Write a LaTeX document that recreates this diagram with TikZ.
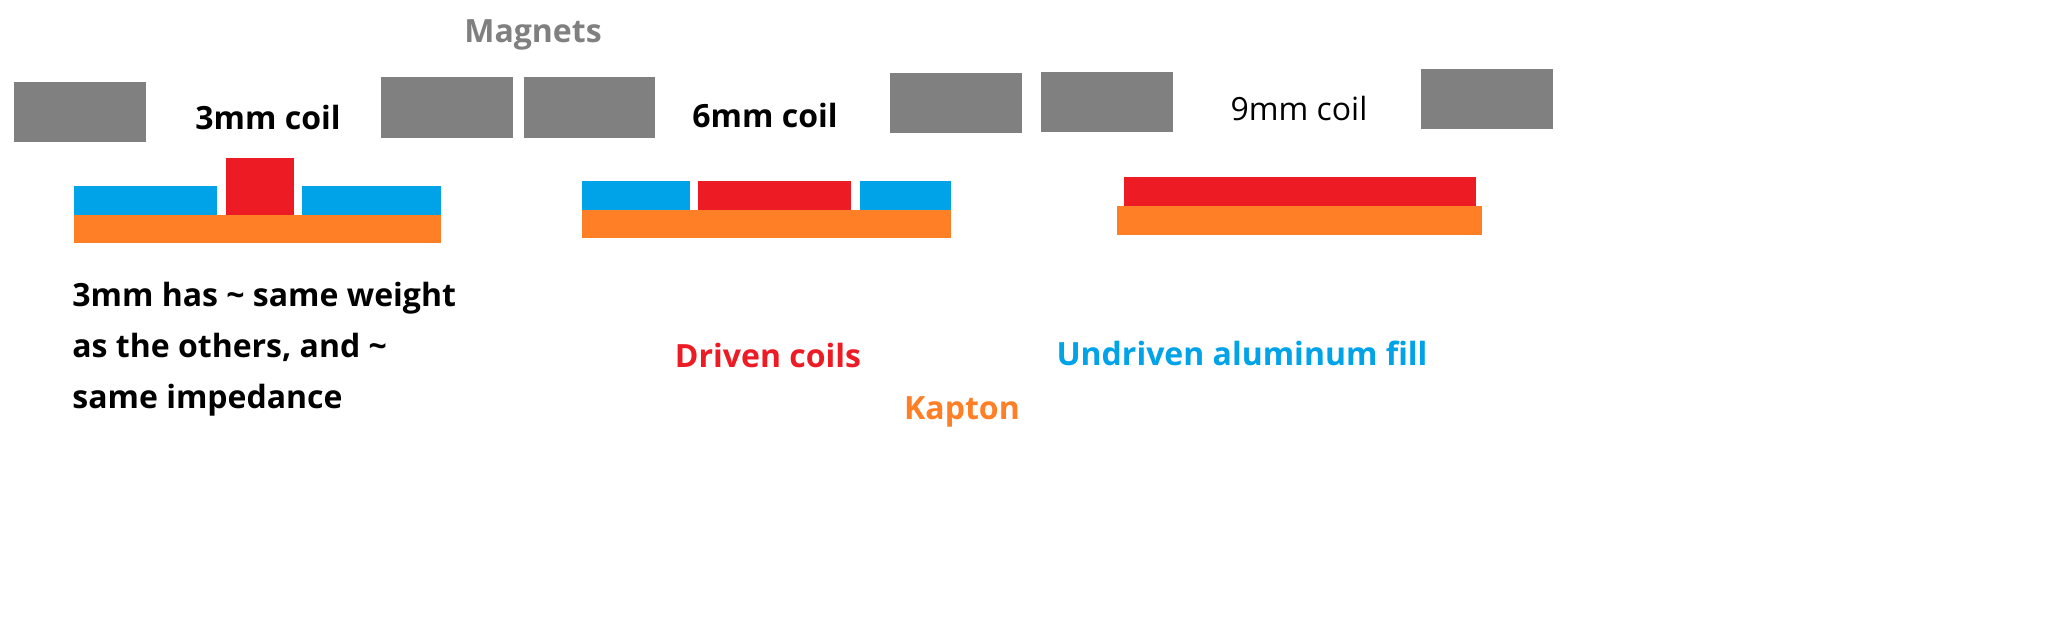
\documentclass[tikz,border=0pt]{standalone}
\usepackage{fontspec}
\setmainfont{Open Sans}
\definecolor{mag}{HTML}{808080}
\definecolor{blu}{HTML}{00A2E8}
\definecolor{rd}{HTML}{ED1C24}
\definecolor{org}{HTML}{FF7F27}
\tikzset{x=0.5pt,y=-0.5pt,
 magnet/.style={fill=mag,draw=none},
 lbl/.style={font=\fontsize{16}{19}\selectfont\bfseries,inner sep=0pt}}
\begin{document}
\begin{tikzpicture}
\useasboundingbox (0,0) rectangle (2048,634);
\fill[white] (0,0) rectangle (2048,634);
\fill[magnet] (14,82) rectangle (146,142);
\fill[magnet] (381,77) rectangle (513,138);
\fill[magnet] (524,77) rectangle (655,138);
\fill[magnet] (890,73) rectangle (1022,133);
\fill[magnet] (1041,72) rectangle (1173,132);
\fill[magnet] (1421,69) rectangle (1553,129);
% 3mm
\fill[blu] (74,186) rectangle (217,215);
\fill[rd] (226,158) rectangle (294,215);
\fill[blu] (302,186) rectangle (441,215);
\fill[org] (74,215) rectangle (441,243);
% 6mm
\fill[blu] (582,181) rectangle (690,210);
\fill[rd] (698,181) rectangle (851,210);
\fill[blu] (860,181) rectangle (951,210);
\fill[org] (582,210) rectangle (951,238);
% 9mm
\fill[rd] (1124,177) rectangle (1476,206);
\fill[org] (1117,206) rectangle (1482,235);
\node[lbl,text=mag] (t0) at (533,35) {Magnets};
\node[lbl] (t1) at (268,117) {3mm coil};
\node[lbl] (t2) at (765,115) {6mm coil};
\node[lbl,font=\fontsize{16}{19}\selectfont] (t3) at (1299,108) {9mm coil};
\node[lbl,anchor=north west,align=left,font=\fontsize{16}{25.5}\selectfont\bfseries] (t4) at (72,282) {3mm has \textasciitilde{} same weight\\as the others, and \textasciitilde\\same impedance};
\node[lbl,text=rd] (t5) at (768,355) {Driven coils};
\node[lbl,text=blu] (t6) at (1242,353) {Undriven aluminum fill};
\node[lbl,text=org] (t7) at (962,412) {Kapton};
\end{tikzpicture}
\end{document}
